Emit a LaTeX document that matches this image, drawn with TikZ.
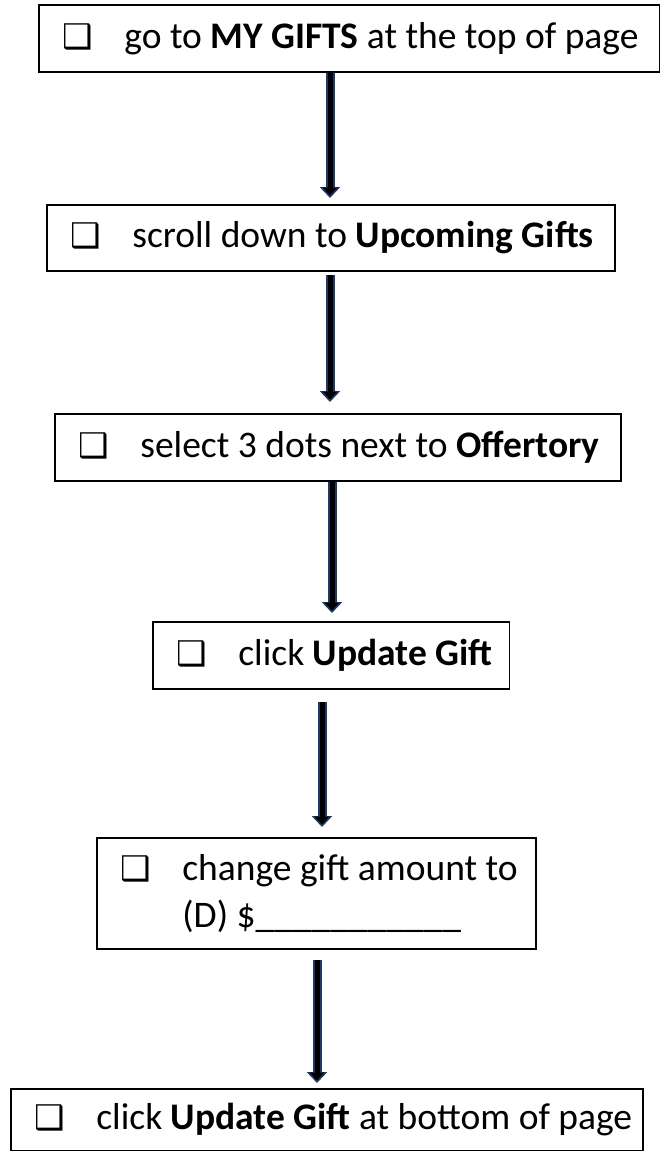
\documentclass[tikz,border=0pt]{standalone}
\usepackage{fontspec}
\setmainfont{Carlito}
\newfontfamily\symfont{DejaVu Sans}
\usetikzlibrary{arrows.meta}
\definecolor{navy}{RGB}{31,56,100}
\newcommand{\cbox}{{\symfont\fontsize{34}{40}\selectfont ❑}}
\newcommand{\lead}{\hspace*{24pt}\cbox\hspace{31pt}}
\newcommand{\trail}[1]{\hspace*{#1pt}}
\tikzset{
  stepbox/.style={draw=black, line width=1.8pt, inner sep=0pt, anchor=north west, align=left,
    font=\fontsize{37.5}{47}\selectfont},
  flowarrow/.style={draw=navy, line width=9pt, -{Triangle[length=11pt,width=20pt]},
    postaction={draw=black, line width=5pt, -{Triangle[length=8pt,width=14pt]}, shorten >=2.5pt}}
}
\begin{document}
\begin{tikzpicture}[x=1pt,y=1pt]
\useasboundingbox (0,0) rectangle (659,-1151);
\node[stepbox, minimum height=67pt] (b1) at (38,-4)
  {\lead go to \textbf{MY GIFTS} at the top of page\trail{21}};
\node[stepbox, minimum height=66pt] (b2) at (46,-204)
  {\lead scroll down to \textbf{Upcoming Gifts}\trail{21}};
\node[stepbox, minimum height=67pt] (b3) at (54,-413)
  {\lead select 3 dots next to \textbf{Offertory}\trail{21}};
\node[stepbox, minimum height=67pt] (b4) at (152,-621)
  {\lead click \textbf{Update Gift}\trail{17}};
\node[stepbox, minimum height=111pt] (b5) at (96,-837)
  {\lead change gift amount to\trail{18}\\
   \hspace*{24pt}\phantom{\cbox}\hspace{31pt}(D) \$\_\_\_\_\_\_\_\_\_\_\_};
\node[stepbox, minimum height=62pt] (b6) at (10,-1088)
  {\lead click \textbf{Update Gift} at bottom of page\trail{11}};
\coordinate (x1) at (330,0);
\coordinate (x2) at (330,0);
\coordinate (x3) at (332,0);
\coordinate (x4) at (322,0);
\coordinate (x5) at (317,0);
\draw[flowarrow] (b1.south -| x1) -- ([yshift=6pt]b2.north -| x1);
\draw[flowarrow] ([yshift=-3pt]b2.south -| x2) -- ([yshift=11pt]b3.north -| x2);
\draw[flowarrow] (b3.south -| x3) -- ([yshift=8pt]b4.north -| x3);
\draw[flowarrow] ([yshift=-12pt]b4.south -| x4) -- ([yshift=10pt]b5.north -| x4);
\draw[flowarrow] ([yshift=-10pt]b5.south -| x5) -- ([yshift=5pt]b6.north -| x5);
\end{tikzpicture}
\end{document}
